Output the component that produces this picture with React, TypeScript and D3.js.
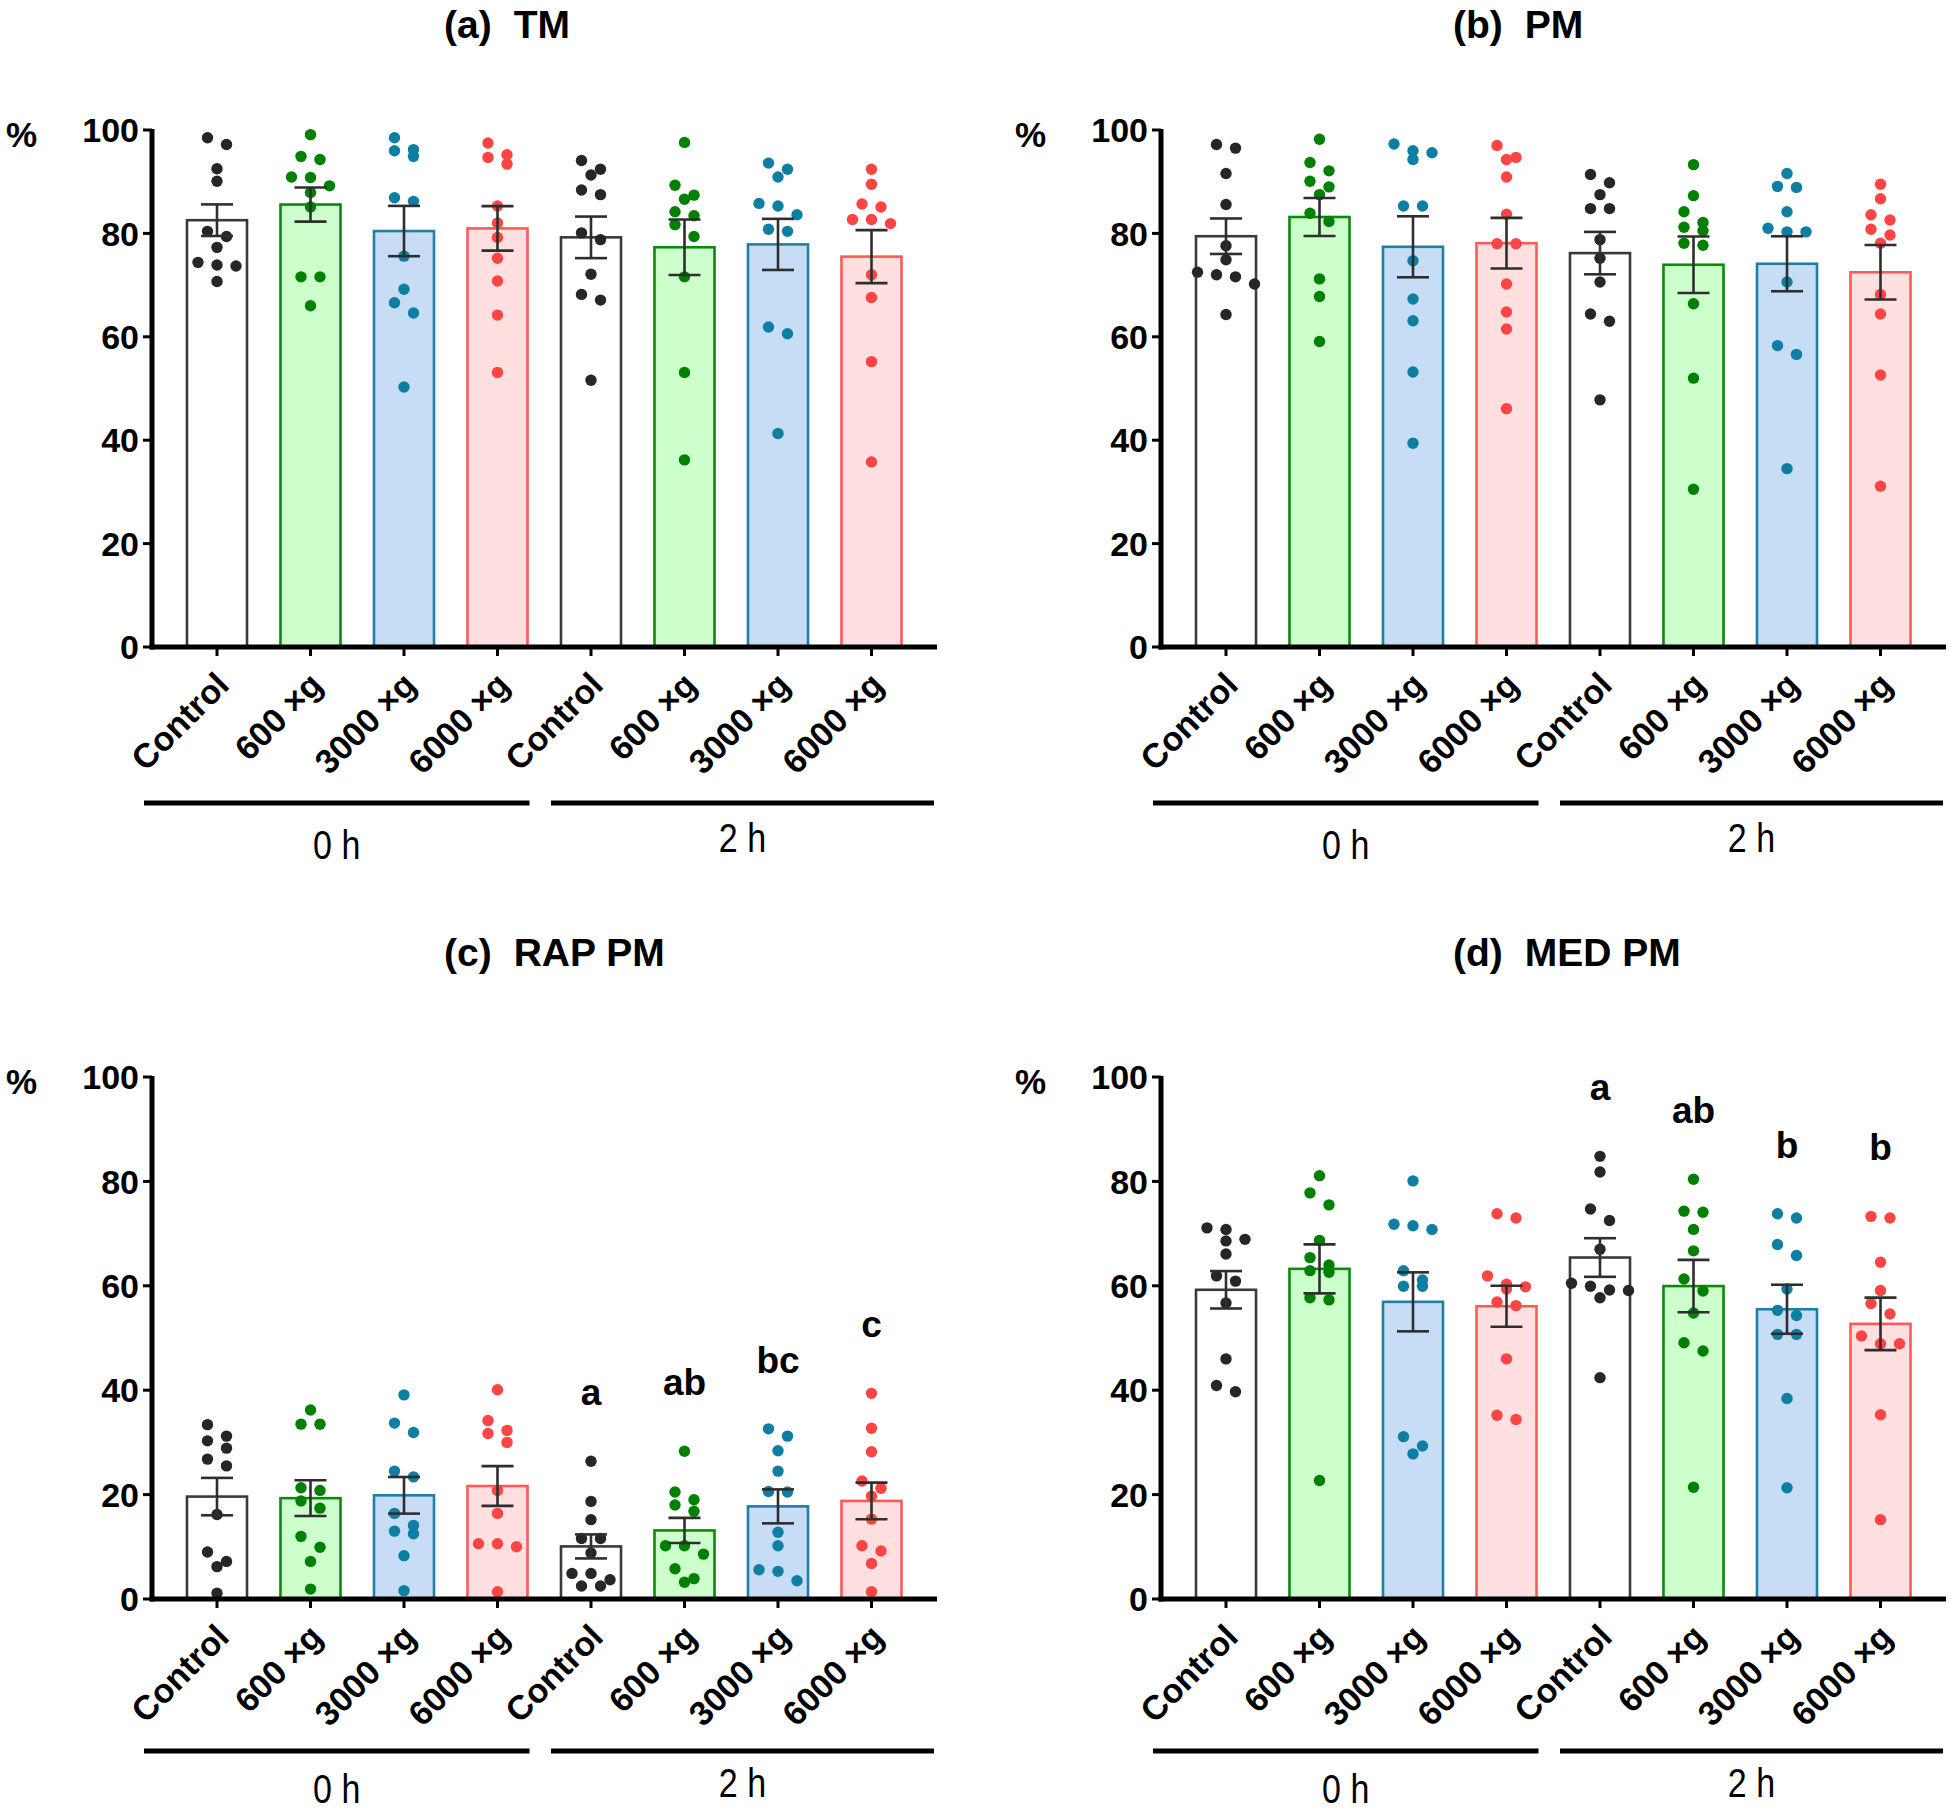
import React from "react";
import * as d3 from "d3";

const FONT = '"Liberation Sans", Arial, Helvetica, sans-serif';

const categories = ["Control", "600 ×g", "3000 ×g", "6000 ×g", "Control", "600 ×g", "3000 ×g", "6000 ×g"];
const groups = ["0 h", "2 h"];
const yTicks = [0, 20, 40, 60, 80, 100];

// fill / stroke / dot colour per treatment (Control, 600, 3000, 6000)
const fills = ["#ffffff", "#ccffcc", "#c7dcf5", "#ffdfdf"];
const strokes = ["#3a3a3a", "#0b8a0b", "#1f7fa6", "#ff5a5a"];
const dotColors = ["#262626", "#008000", "#0e7ea2", "#ff4444"];

// individual values, one list per bar
const tmDots = [
  [98.5, 97.2, 92.5, 90.1, 80.4, 79.4, 77.3, 74.4, 73.9, 73.7, 70.7],
  [99.1, 94.9, 94.3, 90.9, 90.8, 89.2, 87.9, 85.1, 71.6, 71.6, 66.0],
  [98.5, 96.2, 96.0, 94.9, 86.9, 86.2, 75.6, 69.2, 66.6, 64.6, 50.3],
  [97.5, 95.2, 94.7, 93.4, 85.3, 82.0, 79.2, 75.2, 70.8, 64.2, 53.1],
  [94.1, 92.4, 91.3, 88.4, 87.5, 80.1, 78.8, 72.1, 68.2, 67.1, 51.6],
  [97.6, 89.3, 87.4, 86.6, 84.2, 83.4, 81.7, 79.4, 71.6, 53.1, 36.2],
  [93.6, 92.4, 90.9, 85.8, 85.3, 83.6, 80.8, 80.4, 61.9, 60.6, 41.3],
  [92.4, 89.5, 85.7, 85.1, 82.7, 82.7, 81.9, 72.0, 67.6, 55.2, 35.8],
];

const pmDots = [
  [97.2, 96.5, 91.6, 85.6, 77.6, 74.9, 72.5, 72.0, 71.6, 70.2, 64.3],
  [98.2, 93.7, 92.1, 90.1, 89.0, 87.5, 83.9, 82.3, 71.2, 67.8, 59.1],
  [97.3, 96.0, 95.6, 94.3, 85.3, 85.3, 74.7, 67.3, 63.1, 53.2, 39.4],
  [97.0, 94.7, 94.3, 90.9, 83.7, 78.0, 78.0, 70.2, 64.8, 61.5, 46.1],
  [91.4, 89.8, 87.5, 84.8, 84.8, 78.8, 75.2, 70.6, 64.4, 63.0, 47.8],
  [93.3, 87.3, 84.2, 82.1, 81.2, 80.5, 78.1, 77.7, 66.4, 52.0, 30.5],
  [91.6, 89.1, 88.9, 84.2, 81.0, 80.3, 80.3, 70.6, 58.3, 56.6, 34.5],
  [89.5, 86.7, 83.6, 82.6, 80.8, 79.7, 78.1, 68.2, 64.4, 52.6, 31.1],
];

const rapDots = [
  [33.4, 31.2, 30.3, 28.9, 26.8, 25.5, 16.2, 9.0, 7.2, 6.2, 1.1],
  [36.2, 33.5, 33.5, 21.3, 20.8, 18.8, 17.4, 12.0, 9.9, 7.2, 1.9],
  [39.1, 33.7, 31.9, 24.5, 23.4, 16.4, 14.1, 13.0, 12.5, 8.3, 1.6],
  [40.1, 34.2, 32.3, 31.7, 30.0, 20.8, 16.4, 10.6, 10.6, 10.0, 1.4],
  [26.4, 18.7, 15.2, 11.6, 11.6, 8.8, 4.9, 4.9, 3.7, 2.5, 2.5],
  [28.3, 20.5, 19.0, 18.0, 16.8, 10.2, 10.2, 8.6, 5.8, 3.9, 3.2],
  [32.6, 31.2, 28.4, 24.5, 20.6, 20.5, 12.8, 10.2, 5.6, 5.3, 3.5],
  [39.4, 32.7, 28.2, 22.6, 21.2, 19.7, 15.3, 10.2, 9.2, 6.8, 1.4],
];

const medDots = [
  [71.1, 70.8, 68.9, 68.6, 66.1, 61.9, 60.9, 56.7, 46.0, 40.9, 39.7],
  [81.1, 77.8, 75.5, 68.7, 65.4, 64.0, 62.9, 62.6, 57.7, 57.3, 22.7],
  [80.1, 71.8, 71.5, 70.8, 62.9, 61.1, 59.9, 59.9, 31.1, 29.3, 27.8],
  [73.8, 73.0, 61.9, 60.3, 59.8, 59.4, 56.9, 56.2, 46.0, 35.2, 34.4],
  [84.8, 81.8, 74.7, 72.5, 67.0, 60.5, 59.9, 59.2, 59.1, 57.7, 42.4],
  [80.4, 74.3, 74.1, 70.8, 66.7, 61.3, 59.0, 54.8, 49.1, 47.5, 21.4],
  [73.8, 73.0, 67.9, 65.8, 59.4, 55.3, 54.3, 50.7, 50.7, 38.4, 21.3],
  [73.3, 73.0, 64.5, 59.1, 56.6, 54.6, 50.4, 48.9, 48.9, 35.3, 15.2],
];

const rapLetters = ["", "", "", "", "a", "ab", "bc", "c"];
const medLetters = ["", "", "", "", "a", "ab", "b", "b"];

const DOT_R = 5.7;

// simple GraphPad-like scatter: dots close in y share a centred row
function swarm(vals, y) {
  const order = vals.map((v, i) => i).sort((a, b) => vals[b] - vals[a]);
  const rows = [];
  order.forEach((i) => {
    const last = rows[rows.length - 1];
    if (last && Math.abs(y(vals[i]) - y(vals[last[0]])) < DOT_R * 2 + 1) last.push(i);
    else rows.push([i]);
  });
  const out = vals.map(() => 0);
  rows.forEach((row) => {
    row.forEach((i, k) => {
      out[i] = (k - (row.length - 1) / 2) * 19;
    });
  });
  return out;
}

function Panel({ tag, name, dots, letters, axisX, y0, y100, titleY, lineY, labelY0, labelY2 }) {
  const y = d3.scaleLinear().domain([0, 100]).range([y0, y100]);
  const step = 93.5;
  const first = axisX + 65;
  const x = d3
    .scaleBand()
    .domain(d3.range(categories.length))
    .range([first - step / 2, first + step * (categories.length - 0.5)])
    .paddingInner(0.358)
    .paddingOuter(0.179);
  const bw = x.bandwidth();
  const cx = (i) => x(i) + bw / 2;
  const xEnd = axisX + 785;

  const stats = dots.map((d) => {
    const m = d3.mean(d);
    const se = d3.deviation(d) / Math.sqrt(d.length);
    return { m, se };
  });

  const mid1 = (axisX - 8 + cx(3) + 32) / 2;
  const mid2 = (cx(4) - 40 + xEnd - 3) / 2;

  return (
    <g fontFamily={FONT}>
      <text x={axisX + 292} y={titleY} fontSize={39} fontWeight="bold">
        <tspan>{tag}</tspan>
        <tspan dx={22}>{name}</tspan>
      </text>
      <text x={axisX - 146} y={y100 + 17} fontSize={35} fontWeight="bold">%</text>

      {/* bars */}
      {stats.map((s, i) => (
        <rect
          key={"b" + i}
          x={x(i)}
          y={y(s.m)}
          width={bw}
          height={y(0) - y(s.m)}
          fill={fills[i % 4]}
          stroke={strokes[i % 4]}
          strokeWidth={2.6}
        />
      ))}

      {/* dots */}
      {dots.map((d, i) => {
        const off = swarm(d, y);
        return d.map((v, j) => (
          <circle key={"d" + i + "-" + j} cx={cx(i) + off[j]} cy={y(v)} r={DOT_R} fill={dotColors[i % 4]} />
        ));
      })}

      {/* error bars (mean ± SEM) */}
      {stats.map((s, i) => (
        <g key={"e" + i} stroke="#2e2e2e" strokeWidth={2.6}>
          <line x1={cx(i)} x2={cx(i)} y1={y(s.m + s.se)} y2={y(s.m - s.se)} />
          <line x1={cx(i) - 16} x2={cx(i) + 16} y1={y(s.m + s.se)} y2={y(s.m + s.se)} />
          <line x1={cx(i) - 16} x2={cx(i) + 16} y1={y(s.m - s.se)} y2={y(s.m - s.se)} />
        </g>
      ))}

      {/* significance letters */}
      {letters &&
        letters.map((l, i) =>
          l ? (
            <text key={"l" + i} x={cx(i)} y={y(d3.max(dots[i])) - 56} textAnchor="middle" fontSize={37} fontWeight="bold">
              {l}
            </text>
          ) : null
        )}

      {/* y axis */}
      <line x1={axisX} x2={axisX} y1={y(0) + 2.5} y2={y(100) - 1} stroke="#000" strokeWidth={5} />
      {yTicks.map((t) => (
        <g key={"yt" + t}>
          <line x1={axisX - 9} x2={axisX} y1={y(t)} y2={y(t)} stroke="#000" strokeWidth={3} />
          <text x={axisX - 13} y={y(t)} dy="0.36em" textAnchor="end" fontSize={34} fontWeight="bold">
            {t}
          </text>
        </g>
      ))}

      {/* x axis */}
      <line x1={axisX - 2.5} x2={xEnd} y1={y(0)} y2={y(0)} stroke="#000" strokeWidth={5} />
      {categories.map((c, i) => (
        <g key={"xt" + i}>
          <line x1={cx(i)} x2={cx(i)} y1={y(0)} y2={y(0) + 9} stroke="#000" strokeWidth={3} />
          <text
            transform={`translate(${cx(i) + 14},${y(0) + 40}) rotate(-45)`}
            textAnchor="end"
            fontSize={34}
            fontWeight="bold"
          >
            {c}
          </text>
        </g>
      ))}

      {/* time groups */}
      <line x1={axisX - 8} x2={cx(3) + 32} y1={lineY} y2={lineY} stroke="#000" strokeWidth={5} />
      <line x1={cx(4) - 40} x2={xEnd - 3} y1={lineY} y2={lineY} stroke="#000" strokeWidth={5} />
      <text transform={`translate(${mid1},${lineY + labelY0}) scale(0.85,1)`} textAnchor="middle" fontSize={40}>
        {groups[0]}
      </text>
      <text transform={`translate(${mid2},${lineY + labelY2}) scale(0.85,1)`} textAnchor="middle" fontSize={40}>
        {groups[1]}
      </text>
    </g>
  );
}

export default function App() {
  const top = { y0: 647, y100: 130, titleY: 38, lineY: 803, labelY0: 56, labelY2: 49 };
  const bottom = { y0: 1599, y100: 1077, titleY: 966, lineY: 1751, labelY0: 52, labelY2: 46 };
  return (
    <svg
      width={1951}
      height={1812}
      style={{ position: "absolute", left: 0, top: 0, background: "#fff" }}
    >
      <rect width={1951} height={1812} fill="#fff" />
      <Panel tag="(a)" name="TM" dots={tmDots} axisX={152} {...top} />
      <Panel tag="(b)" name="PM" dots={pmDots} axisX={1161} {...top} />
      <Panel tag="(c)" name="RAP PM" dots={rapDots} letters={rapLetters} axisX={152} {...bottom} />
      <Panel tag="(d)" name="MED PM" dots={medDots} letters={medLetters} axisX={1161} {...bottom} />
    </svg>
  );
}
